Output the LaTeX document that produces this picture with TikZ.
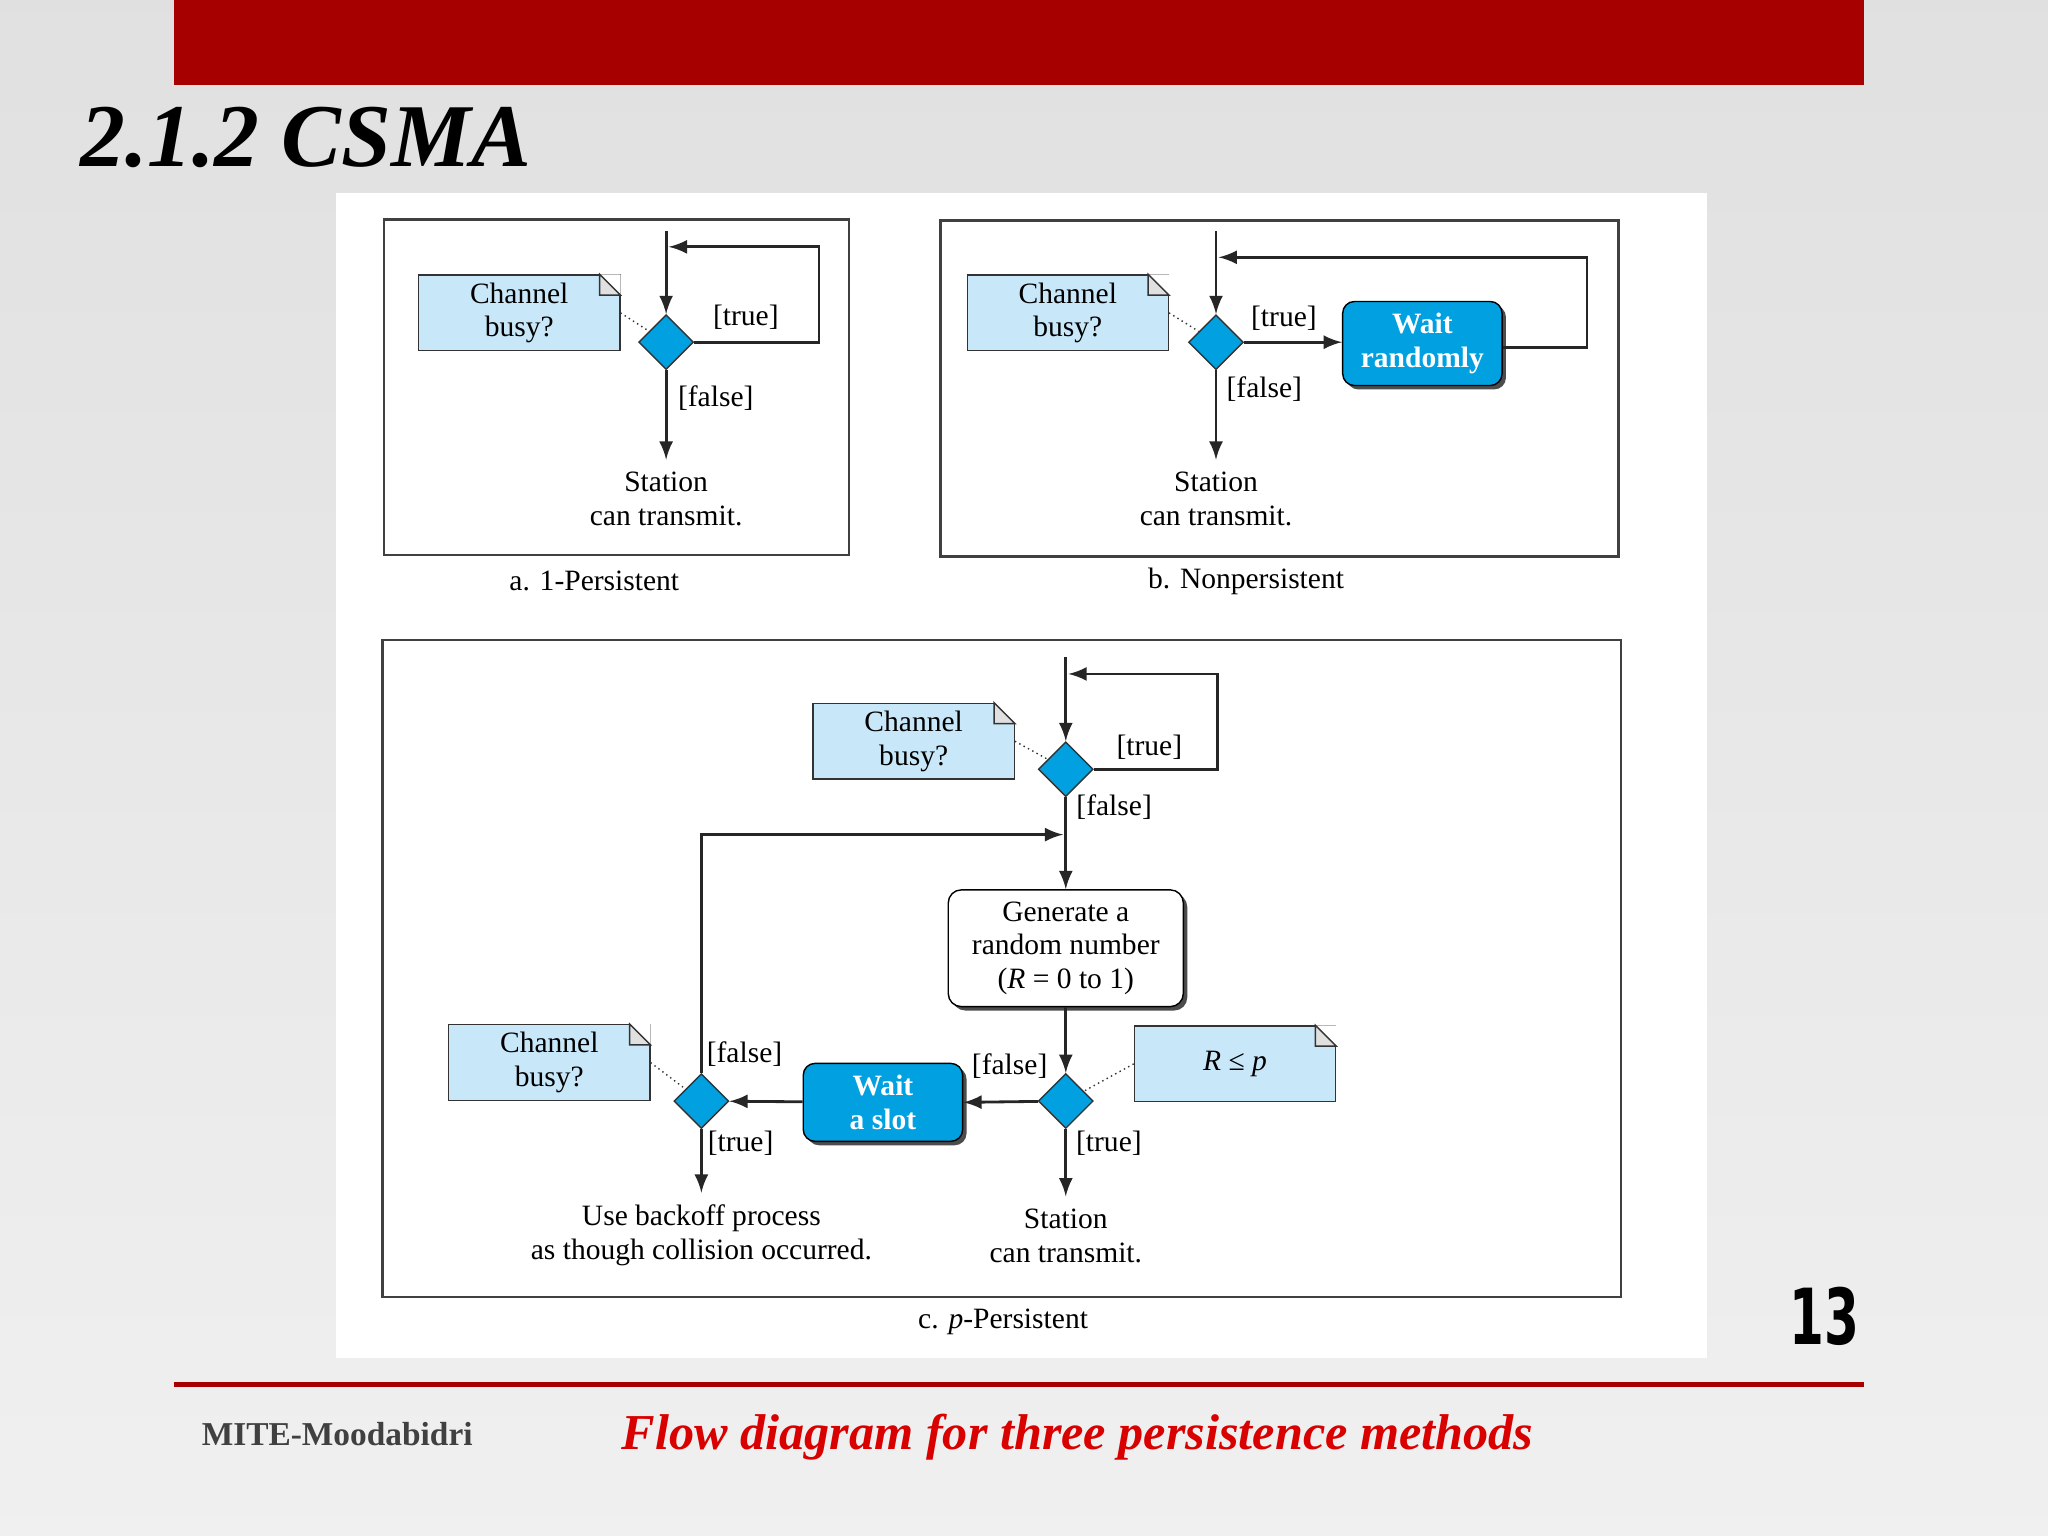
\documentclass[tikz,border=0pt]{standalone}
\usepackage{fontspec}
\setmainfont{Liberation Serif}
\usetikzlibrary{shapes.geometric,shadows}
\definecolor{barred}{RGB}{166,0,0}
\definecolor{notefill}{RGB}{200,232,250}
\definecolor{diafill}{RGB}{0,160,225}
\newlength{\unitpx}\setlength{\unitpx}{0.013061cm}
\tikzset{
  note/.style={draw=black!80,fill=notefill,minimum width=154\unitpx,minimum height=58\unitpx,
    align=center,font=\fontsize{8.4}{9.6}\selectfont,inner sep=0pt},
  fold/.style={draw=black!80,fill=black!12},
  dia/.style={diamond,draw=black!80,fill=diafill,minimum size=42\unitpx,inner sep=0pt},
  act/.style={rounded corners=9\unitpx,draw=black,fill=diafill,text=white,font=\bfseries\fontsize{8.4}{9.6}\selectfont,
    align=center,minimum width=122\unitpx,minimum height=56\unitpx,drop shadow={shadow xshift=3\unitpx,shadow yshift=-3\unitpx,fill=black!70,opacity=1}},
  proc/.style={rounded corners=10\unitpx,draw=black,fill=white,align=center,font=\fontsize{8.4}{9.6}\selectfont,
    minimum width=180\unitpx,minimum height=82\unitpx,drop shadow={shadow xshift=3\unitpx,shadow yshift=-3\unitpx,fill=black!70,opacity=1}},
  lbl/.style={font=\fontsize{8.4}{9.6}\selectfont,align=center},
  flow/.style={->,>=latex,thick,black!85},
  link/.style={densely dotted,black!80},
  frame/.style={draw=black!75,line width=0.7pt}
}
% folded corner of a note
\newcommand{\notefold}[1]{%
  \fill[white] ([xshift=-16\unitpx]#1.north east) -- (#1.north east) -- ([yshift=-16\unitpx]#1.north east) -- cycle;
  \draw[fold] ([xshift=-16\unitpx]#1.north east) -- ([yshift=-16\unitpx]#1.north east) -| cycle;}
\begin{document}
\begin{tikzpicture}[x=0.013061cm,y=-0.013061cm]
\shade[top color=black!12,bottom color=black!6] (0,0) rectangle (1568,1176);
\useasboundingbox (0,0) rectangle (1568,1176);
\fill[barred] (133,0) rectangle (1427,65);
\node[anchor=west,font=\bfseries\itshape\fontsize{25.5}{28}\selectfont] (title) at (52,105) {2.1.2 CSMA};
\fill[white] (257,148) rectangle (1307,1040);
% a. 1-Persistent
\draw[frame] (294,168) rectangle (650,425);
\coordinate (a0) at (510,177);
\node[dia] (ad) at (510,262) {};
\node[note,anchor=north west] (an) at (320,210) {Channel\\busy?};
\notefold{an}
\node[lbl] (as) at (510,382) {Station\\can transmit.};
\coordinate (ar) at (627,262);
\coordinate (ab) at (512,189);
\draw[flow] (a0) -- (ad);
\draw[flow] (ad) -- (as.north);
\draw[flow] (ad.east) -- (ar) |- (ab);
\draw[link] (an.east) -- (ad);
\node[lbl] at (571,243) {[true]};
\node[lbl] at (548,305) {[false]};
\node[lbl] (acap) at (455,445) {a. 1-Persistent};
% b. Nonpersistent
\draw[frame] (720,169) rectangle (1239,426);
\coordinate (b0) at (931,177);
\node[dia] (bd) at (931,262) {};
\node[note,anchor=north west] (bn) at (740,210) {Channel\\busy?};
\notefold{bn}
\node[act] (bw) at (1089,263) {Wait\\randomly};
\node[lbl] (bs) at (931,382) {Station\\can transmit.};
\coordinate (br) at (1215,266);
\coordinate (bb) at (933,197);
\draw[flow] (b0) -- (bd);
\draw[flow] (bd) -- (bs.north);
\draw[flow] (bd.east) -- (bd.east -| bw.west);
\draw[flow] (bw.east |- br) -- (br) |- (bb);
\draw[link] (bn.east) -- (bd);
\node[lbl] at (983,244) {[true]};
\node[lbl] at (968,298) {[false]};
\node[lbl] (bcap) at (954,445) {b. Nonpersistent};
% c. p-Persistent
\draw[frame] (293,490) rectangle (1241,993);
\coordinate (c0) at (816,503);
\node[dia] (cd) at (816,589) {};
\node[note,anchor=north west] (cn) at (622,538) {Channel\\busy?};
\notefold{cn}
\coordinate (cr) at (932,589);
\coordinate (cb) at (818,516);
\node[proc] (cg) at (816,726) {Generate a\\random number\\(\textit{R} = 0 to 1)};
\node[dia] (cp) at (816,843) {};
\node[note,anchor=north west] (cpn) at (868,785) {\textit{R} ≤ \textit{p}};
\notefold{cpn}
\node[act] (cw) at (676,844) {Wait\\a slot};
\node[dia] (cq) at (537,843) {};
\node[note,anchor=north west] (cqn) at (343,784) {Channel\\busy?};
\notefold{cqn}
\node[lbl] (cs) at (816,946) {Station\\can transmit.};
\node[lbl] (cu) at (537,946) {Use backoff process\\as though collision occurred.};
\coordinate (cl) at (537,639);
\coordinate (cm) at (814,639);
\draw[flow] (c0) -- (cd);
\draw[flow] (cd.east) -- (cr) |- (cb);
\draw[flow] (cd) -- (cg.north);
\draw[flow] (cg) -- (cp);
\draw[flow] (cp) -- (cw.east);
\draw[flow] (cw) -- (cq);
\draw[flow] (cp) -- (cs.north);
\draw[flow] (cq) -- (cu.north);
\draw[flow] (cq.north) -- (cl) -- (cm);
\draw[link] (cn.east) -- (cd);
\draw[link] (cpn.west) -- (cp);
\draw[link] (cqn.east) -- (cq);
\node[lbl] at (880,572) {[true]};
\node[lbl] at (853,618) {[false]};
\node[lbl] at (773,816) {[false]};
\node[lbl] at (849,875) {[true]};
\node[lbl] at (570,807) {[false]};
\node[lbl] at (567,875) {[true]};
\node[lbl] (ccap) at (768,1012) {c. \textit{p}-Persistent};
% footer
\draw[barred,line width=1.5pt] (133,1060) -- (1427,1060);
\node[xscale=0.72,font=\bfseries\fontsize{22}{24}\selectfont\fontspec{DejaVu Sans Condensed}] (pg) at (1397,1008) {13};
\node[anchor=west,font=\bfseries\fontsize{9.5}{11}\selectfont,text=black!75] (foot) at (145,1098) {MITE-Moodabidri};
\node[font=\bfseries\itshape\fontsize{14.3}{16}\selectfont,text=red!85!black] (cap) at (825,1100) {Flow diagram for three persistence methods};
\end{tikzpicture}
\end{document}
